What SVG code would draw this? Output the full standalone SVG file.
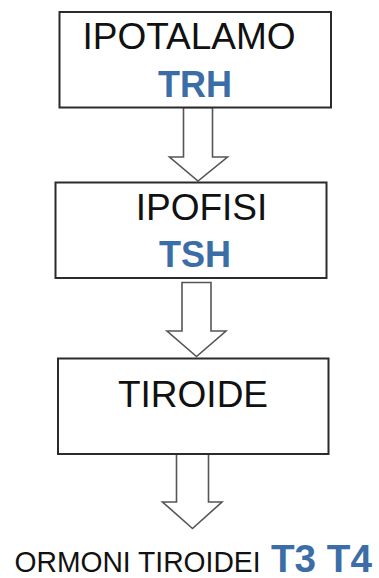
<svg xmlns="http://www.w3.org/2000/svg" width="379" height="578" viewBox="0 0 379 578">
  <style>
    .box { fill: #ffffff; stroke: #2b2b2b; stroke-width: 2; }
    .arrow { fill: #ffffff; stroke: #555555; stroke-width: 1.6; stroke-linejoin: miter; }
    .name { font-family: "Liberation Sans", Arial, sans-serif; font-size: 37px; fill: #111111; text-anchor: middle; }
    .hormone { font-family: "Liberation Sans", Arial, sans-serif; font-size: 36px; font-weight: bold; fill: #3b6ea6; text-anchor: middle; }
    .out { font-family: "Liberation Sans", Arial, sans-serif; font-size: 29px; fill: #111111; }
    .out-hormone { font-family: "Liberation Sans", Arial, sans-serif; font-size: 38px; font-weight: bold; fill: #3b6ea6; }
  </style>
  <rect width="379" height="578" fill="#ffffff"/>

  <!-- hollow block arrows between the levels -->
  <g id="connectors">
    <polygon class="arrow" points="183.5,107.5 212.5,107.5 212.5,157 227.5,157 198,181 169.5,157 183.5,157"/>
    <polygon class="arrow" points="182,282.5 211,282.5 211,331 226,331 196.5,356.5 167,331 182,331"/>
    <polygon class="arrow" points="176.5,454 208.5,454 208.5,502 222,502 192.5,528.5 162.5,502 176.5,502"/>
  </g>

  <g id="ipotalamo">
    <rect class="box" x="59.5" y="12" width="271.5" height="95.5"/>
    <text class="name" x="189" y="48.5">IPOTALAMO</text>
    <text class="hormone" x="195" y="96.5">TRH</text>
  </g>

  <g id="ipofisi">
    <rect class="box" x="55.5" y="182.5" width="271" height="95.5"/>
    <text class="name" x="201.5" y="219.5">IPOFISI</text>
    <text class="hormone" x="195" y="267">TSH</text>
  </g>

  <g id="tiroide">
    <rect class="box" x="58" y="358.5" width="270.5" height="95.5"/>
    <text class="name" x="193" y="406.5">TIROIDE</text>
  </g>

  <g id="ormoni">
    <text class="out" x="14.5" y="571.5" textLength="246" lengthAdjust="spacingAndGlyphs">ORMONI TIROIDEI</text>
    <text class="out-hormone" x="271" y="571.5" textLength="101" lengthAdjust="spacingAndGlyphs">T3 T4</text>
  </g>
</svg>
